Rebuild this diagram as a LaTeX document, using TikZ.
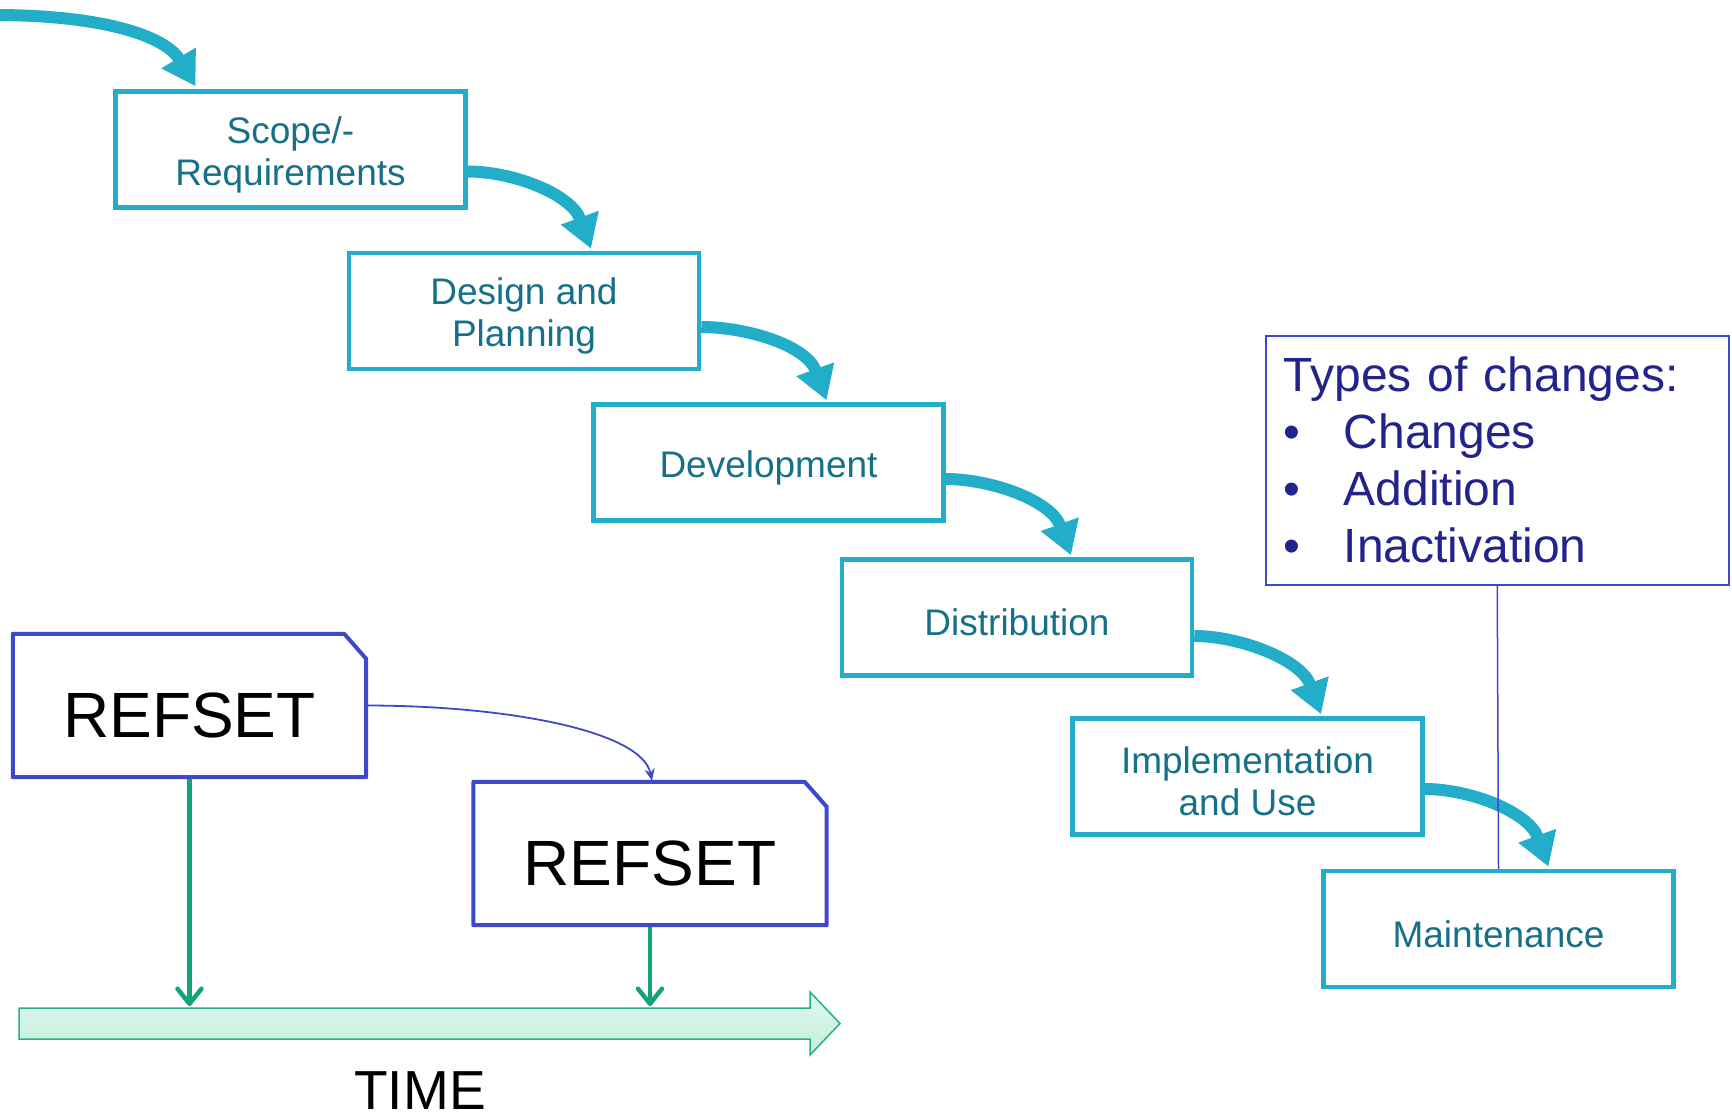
\documentclass[tikz,border=0pt]{standalone}
\usepackage{fontspec}
\setmainfont{Liberation Sans}
\usetikzlibrary{arrows.meta,calc}
\definecolor{cyanbox}{RGB}{34,173,200}
\definecolor{tealtext}{RGB}{22,112,135}
\definecolor{refblue}{RGB}{63,72,204}
\definecolor{navytext}{RGB}{35,35,140}
\definecolor{timegreen}{RGB}{18,163,125}
\definecolor{timeedge}{RGB}{43,174,132}
\definecolor{timetop}{RGB}{224,248,238}
\definecolor{timebot}{RGB}{194,238,219}
\begin{document}
\begin{tikzpicture}[x=1pt,y=-1pt,
 stagebox/.style={draw=cyanbox, line width=4.5pt, fill=white, minimum width=350pt, minimum height=116pt, inner sep=0pt},
 stagetext/.style={inner sep=0pt, text=tealtext, align=center, font=\fontsize{37pt}{42pt}\selectfont},
 flow/.style={draw=cyanbox, line width=12pt, -{Triangle[length=33pt,width=38pt]}},
 refbox/.style={minimum width=353pt, minimum height=143pt, inner sep=0pt, text height=63pt, text depth=0pt, font=\fontsize{64pt}{70pt}\selectfont},
 refedge/.style={draw=refblue, line width=4pt, line join=round},
 greenarrow/.style={draw=timegreen, line width=4.5pt, line cap=round, -{Straight Barb[length=15pt,width=24pt,round]}},
]
\path[use as bounding box] (0,0) rectangle (1732,1118);

% stage boxes
\node[stagebox] (b1) at (290.5,149.5) {};
\node[stagebox] (b2) at (524,311) {};
\node[stagebox] (b3) at (768.5,462.5) {};
\node[stagebox] (b4) at (1017,617.5) {};
\node[stagebox] (b5) at (1247.5,776.5) {};
\node[stagebox] (b6) at (1498.5,929) {};
\node[stagetext] (t1) at ($(b1)+(0,5)$) {Scope/-\\Requirements};
\node[stagetext] (t2) at ($(b2)+(0,5)$) {Design and\\Planning};
\node[stagetext] (t3) at ($(b3)+(0,5)$) {Development};
\node[stagetext] (t4) at ($(b4)+(0,5)$) {Distribution};
\node[stagetext] (t5) at ($(b5)+(0,5)$) {Implementation\\and Use};
\node[stagetext] (t6) at ($(b6)+(0,5)$) {Maintenance};

% flow arrows
\coordinate (in0) at (-6,15);
\draw[flow] (in0) .. controls +(110,0) and +(-30,-50) .. ($(b1.north)+(-95,-3)$);
\draw[flow] ($(b1.east)+(0,22)$) .. controls +(45,0) and +(-20,-55) .. ($(b2.north)+(67,-2)$);
\draw[flow] ($(b2.east)+(0,16)$) .. controls +(45,0) and +(-20,-55) .. ($(b3.north)+(58,-2)$);
\draw[flow] ($(b3.east)+(0,16.5)$) .. controls +(45,0) and +(-20,-55) .. ($(b4.north)+(54,-2)$);
\draw[flow] ($(b4.east)+(0,18.5)$) .. controls +(45,0) and +(-20,-55) .. ($(b5.north)+(73.5,-2)$);
\draw[flow] ($(b5.east)+(0,12.5)$) .. controls +(45,0) and +(-20,-55) .. ($(b6.north)+(50,-2)$);

% types of changes
\node[draw=refblue, line width=1.5pt, fill=white, minimum width=463pt, minimum height=249pt, anchor=north west, inner xsep=18pt, inner ysep=0pt, text width=427pt, align=left, text=navytext, font=\fontsize{48pt}{57pt}\selectfont] (types) at (1265,335)
 {Types of changes:\\
  \makebox[60pt][l]{\textbullet}Changes\\
  \makebox[60pt][l]{\textbullet}Addition\\
  \makebox[60pt][l]{\textbullet}Inactivation};
\draw[refblue, line width=1.5pt] (types.south) -- (b6.north);

% time arrow
\path[draw=timeedge, line width=1.5pt, top color=timetop, bottom color=timebot]
 (19,1008) -- (810,1008) -- (810,992) -- (840,1023.5) -- (810,1055) -- (810,1039) -- (19,1039) -- cycle;
\coordinate (tline) at (0,1006);
\node[font=\fontsize{55pt}{60pt}\selectfont] (time) at (420,1091) {TIME};

% refsets
\node[refbox] (ra) at (189.5,705.5) {REFSET};
\node[refbox] (rb) at (650,853.5) {REFSET};
\draw[greenarrow] (ra.south) -- (ra.south |- tline);
\draw[greenarrow] (rb.south) -- (rb.south |- tline);
\draw[refedge] (ra.north west) -- ($(ra.north east)+(-22,0)$) -- ($(ra.north east)+(0,25)$) -- (ra.south east) -- (ra.south west) -- cycle;
\draw[refedge] (rb.north west) -- ($(rb.north east)+(-22,0)$) -- ($(rb.north east)+(0,25)$) -- (rb.south east) -- (rb.south west) -- cycle;
\draw[refblue, line width=1.8pt, -{Stealth[length=12pt,width=10pt]}] (ra.east) .. controls +(140,0) and +(-10,-50) .. ($(rb.north)+(2,-1)$);
\end{tikzpicture}
\end{document}
